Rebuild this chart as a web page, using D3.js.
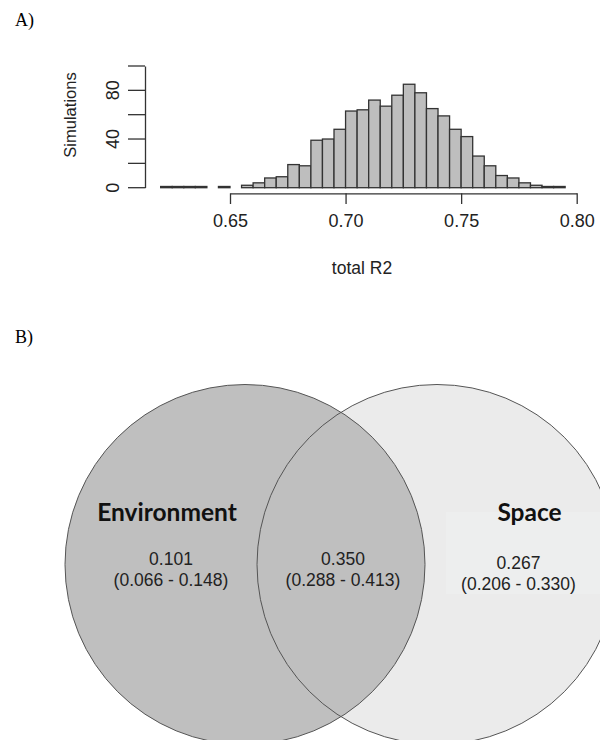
<!DOCTYPE html>
<html>
<head>
<meta charset="utf-8">
<script src="https://cdn.jsdelivr.net/npm/d3@7"></script>
<style>
  body { margin: 0; background: #fff; }
  svg { display: block; }
</style>
</head>
<body>
<div id="chart"></div>
<script>
// histogram of total R2 over simulations (bin starts, width 0.005)
const binStarts = [0.620, 0.625, 0.630, 0.635, 0.640, 0.645, 0.650, 0.655, 0.660, 0.665,
                   0.670, 0.675, 0.680, 0.685, 0.690, 0.695, 0.700, 0.705, 0.710, 0.715,
                   0.720, 0.725, 0.730, 0.735, 0.740, 0.745, 0.750, 0.755, 0.760, 0.765,
                   0.770, 0.775, 0.780, 0.785, 0.790];
const counts = [1, 1, 1, 1, 0, 1, 0, 2, 4, 8,
                9, 19, 18, 39, 40, 48, 63, 64, 72, 67,
                76, 85, 78, 65, 59, 48, 42, 26, 18, 10,
                8, 4, 2, 1, 1];
const binWidth = 0.005;
const xTicks = [0.65, 0.70, 0.75, 0.80];
const yTicks = [0, 20, 40, 60, 80, 100];
const yLabelled = [0, 40, 80];

// variance partitioning
const vennSets = ['Environment', 'Space'];
const vennValues = ['0.101', '0.350', '0.267'];
const vennRanges = ['(0.066 - 0.148)', '(0.288 - 0.413)', '(0.206 - 0.330)'];

const W = 600, H = 740;
const svg = d3.select('#chart').append('svg')
    .attr('width', W).attr('height', H);

const serif = '"Liberation Serif", "Times New Roman", serif';
const sans = '"Liberation Sans", Arial, sans-serif';

svg.append('text').attr('x', 15).attr('y', 26)
    .style('font-family', serif).style('font-size', '18px').text('A)');
svg.append('text').attr('x', 15).attr('y', 343)
    .style('font-family', serif).style('font-size', '18px').text('B)');

// ---- panel A ----
const x = d3.scaleLinear().domain([0.65, 0.80]).range([230, 576.7]);
const y = d3.scaleLinear().domain([0, 100]).range([187.7, 66]);

const hist = svg.append('g');
hist.selectAll('rect')
    .data(binStarts.map((b, i) => ({b: b, n: counts[i]})).filter(d => d.n > 0))
    .enter().append('rect')
    .attr('x', d => x(d.b))
    .attr('y', d => y(d.n))
    .attr('width', d => x(d.b + binWidth) - x(d.b))
    .attr('height', d => y(0) - y(d.n))
    .attr('fill', '#bebebe')
    .attr('stroke', '#333')
    .attr('stroke-width', 1.3);

const xAxis = svg.append('g')
    .attr('transform', 'translate(0,193.3)')
    .call(d3.axisBottom(x).tickValues(xTicks).tickFormat(d3.format('.2f'))
        .tickSize(10.7).tickSizeOuter(0).tickPadding(10));
xAxis.selectAll('text').style('font-family', sans).style('font-size', '18px').attr('fill', '#222');

const yAxis = svg.append('g')
    .attr('transform', 'translate(145,0)')
    .call(d3.axisLeft(y).tickValues(yTicks)
        .tickFormat(d => yLabelled.includes(d) ? d : '')
        .tickSize(17).tickSizeOuter(0));
yAxis.selectAll('text')
    .style('font-family', sans).style('font-size', '18px').attr('fill', '#222')
    .attr('text-anchor', 'middle')
    .attr('transform', d => 'translate(' + (-32) + ',' + y(d) + ') rotate(-90)')
    .attr('x', 0).attr('y', 0).attr('dy', '0.35em');
yAxis.selectAll('.tick').attr('transform', null);
yAxis.selectAll('.tick line').attr('transform', d => 'translate(0,' + y(d) + ')');

svg.selectAll('.domain, .tick line').attr('stroke', '#333').attr('stroke-width', 1.3);

svg.append('text')
    .attr('x', 362).attr('y', 274)
    .attr('text-anchor', 'middle')
    .style('font-family', sans).style('font-size', '17.5px').attr('fill', '#222')
    .text('total R2');
svg.append('text')
    .attr('transform', 'translate(76,115) rotate(-90)')
    .attr('text-anchor', 'middle')
    .style('font-family', sans).style('font-size', '16.5px').attr('fill', '#222')
    .text('Simulations');

// ---- panel B ----
const vx = d3.scaleLinear().domain([0, 1]).range([245, 437]);
const cy = 564.5, r = 180;

const venn = svg.append('g');
svg.append('defs').append('clipPath').attr('id', 'space-clip')
    .append('circle').attr('cx', vx(1)).attr('cy', cy).attr('r', r);
venn.append('circle').attr('cx', vx(1)).attr('cy', cy).attr('r', r).attr('fill', '#ebebeb');
venn.append('rect').attr('x', 446).attr('y', 512).attr('width', 160).attr('height', 82)
    .attr('fill', '#edeeee').attr('clip-path', 'url(#space-clip)');
venn.append('circle').attr('cx', vx(0)).attr('cy', cy).attr('r', r).attr('fill', '#bfbfbf');
venn.selectAll('circle.outline')
    .data([0, 1]).enter().append('circle')
    .attr('class', 'outline')
    .attr('cx', d => vx(d)).attr('cy', cy).attr('r', r)
    .attr('fill', 'none').attr('stroke', '#555').attr('stroke-width', 1);

const setLabelX = [167, 529.5];
venn.selectAll('text.set')
    .data(vennSets).enter().append('text')
    .attr('class', 'set')
    .attr('x', (d, i) => setLabelX[i]).attr('y', 521)
    .attr('text-anchor', 'middle')
    .style('font-family', 'Lato, "Open Sans", sans-serif')
    .style('font-weight', 'bold').style('font-size', '24.5px')
    .attr('fill', '#111')
    .text(d => d);

const valX = [171, 343, 518.5];
const valY = [565, 565, 569];
vennValues.forEach((v, i) => {
    const t = venn.append('text')
        .attr('text-anchor', 'middle')
        .style('font-family', sans).style('font-size', '17.5px').attr('fill', '#222');
    t.append('tspan').attr('x', valX[i]).attr('y', valY[i]).text(v);
    t.append('tspan').attr('x', valX[i]).attr('y', valY[i] + 21).text(vennRanges[i]);
});
</script>
</body>
</html>
